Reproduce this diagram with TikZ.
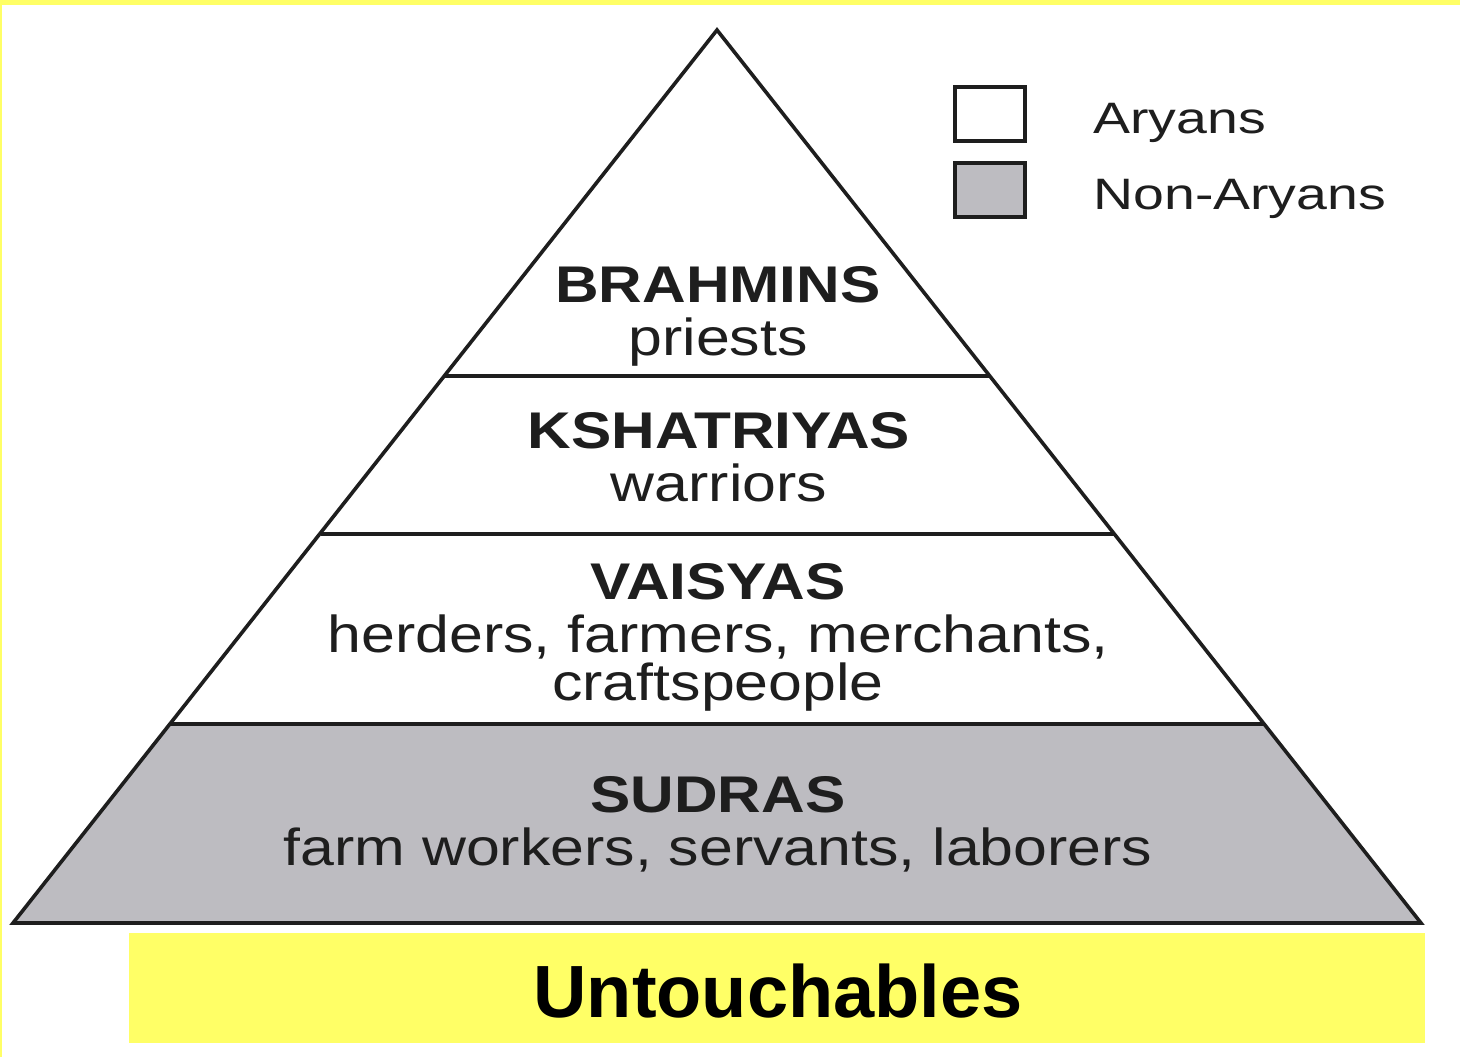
\documentclass[tikz,border=0pt]{standalone}
\usepackage{fontspec}
\setmainfont{Liberation Sans}
\newfontfamily\pyrfont[FakeStretch=1.17]{Liberation Sans}
\newfontfamily\legfont[FakeStretch=1.26]{Liberation Sans}
\definecolor{yel}{RGB}{255,255,102}
\definecolor{nonary}{RGB}{189,188,193}
\definecolor{ink}{RGB}{30,30,30}
\tikzset{
  pline/.style={draw=ink, line width=1.8pt, line join=miter},
  head/.style={anchor=base, inner sep=0pt, text=ink, font=\pyrfont\bfseries\fontsize{25.8pt}{28pt}\selectfont},
  sub/.style={anchor=base, inner sep=0pt, text=ink, font=\pyrfont\fontsize{26pt}{28pt}\selectfont},
  legbox/.style={draw=ink, line width=2pt, minimum width=35pt, minimum height=27pt, inner sep=0pt},
  legtext/.style={anchor=base west, inner sep=0pt, text=ink, font=\legfont\fontsize{22pt}{24pt}\selectfont},
}
\begin{document}
\begin{tikzpicture}[x=0.5pt,y=-0.5pt]
\useasboundingbox (0,0) rectangle (1468,1057);
\fill[white] (0,0) rectangle (1468,1057);
% yellow frame pieces
\fill[yel] (0,0) rectangle (1460,5);
\fill[yel] (0,0) rectangle (2,1057);
% pyramid
\coordinate (apex) at (717,30);
\coordinate (bl) at (13,923);
\coordinate (br) at (1421,923);
\coordinate (l1) at (445,376);   \coordinate (r1) at (989,376);
\coordinate (l2) at (321,534);   \coordinate (r2) at (1114,534);
\coordinate (l3) at (171,724);   \coordinate (r3) at (1263,724);
\fill[nonary] (l3) -- (r3) -- (br) -- (bl) -- cycle;
\draw[pline] (apex) -- (br) -- (bl) -- cycle;
\draw[pline] (l1) -- (r1);
\draw[pline] (l2) -- (r2);
\draw[pline] (l3) -- (r3);
% texts
\node[head] (brahmins) at (718,302) {BRAHMINS};
\node[sub]  (priests) at (718,355) {priests};
\node[head] (kshatriyas) at (719,448) {KSHATRIYAS};
\node[sub]  (warriors) at (719,501) {warriors};
\node[head] (vaisyas) at (718,599) {VAISYAS};
\node[sub]  (vaisyas1) at (718,652) {herders, farmers, merchants,};
\node[sub]  (vaisyas2) at (718,700) {craftspeople};
\node[head] (sudras) at (718,812) {SUDRAS};
\node[sub]  (sudras1) at (718,865) {farm workers, servants, laborers};
% legend
\node[legbox, fill=white] (arybox) at (990,114) {};
\node[legbox, fill=nonary] (nonarybox) at (990,190) {};
\node[legtext] (arytext) at (1093,133) {Aryans};
\node[legtext] (nonarytext) at (1093,209) {Non-Aryans};
% untouchables band
\fill[yel] (129,933) rectangle (1425,1043);
\node[anchor=base, inner sep=0pt, font=\bfseries\fontsize{37pt}{40pt}\selectfont] (untouch) at (778,1017) {Untouchables};
\end{tikzpicture}
\end{document}
